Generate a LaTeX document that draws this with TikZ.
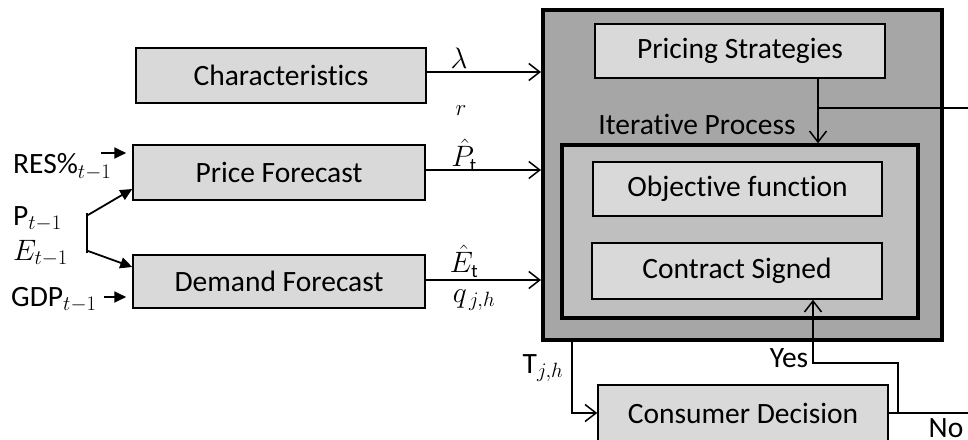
\RequirePackage{fix-cm}
\documentclass[tikz,border=0pt]{standalone}
\usepackage{fontspec}
\setmainfont{Carlito}[Ligatures=NoCommon]
\usetikzlibrary{arrows.meta}
\definecolor{boxgray}{HTML}{D9D9D9}
\definecolor{outergray}{HTML}{A6A6A6}
\definecolor{innergray}{HTML}{BFBFBF}
\newcommand{\smalltxt}[1]{\hbox{\fontsize{19}{19}\selectfont #1}}
\begin{document}
\begin{tikzpicture}[x=1pt,y=-1pt,
  font=\fontsize{29.5}{32}\selectfont,
  smallbox/.style={draw, line width=1.5pt, fill=boxgray, inner sep=0pt},
  openarrow/.style={line width=1.5pt, -{Straight Barb[length=11pt,width=17pt,line width=1.5pt]}},
  filledarrow/.style={line width=1.8pt, -{Triangle[length=12pt,width=11pt]}},
  lbl/.style={inner sep=0pt}]
\useasboundingbox (0,0) rectangle (968,439);
\clip (0,0) rectangle (968,439);
% outer and inner containers
\node[draw, line width=4pt, fill=outergray, minimum width=399pt, minimum height=330pt, inner sep=0pt] (outer) at (742.5,175) {};
\node[draw, line width=3.5pt, fill=innergray, minimum width=356pt, minimum height=173pt, inner sep=0pt] (inner) at (740,231.5) {};
% boxes
\node[smallbox, minimum width=290pt, minimum height=55pt] (char) at (281,75.5) {Characteristics};
\node[smallbox, minimum width=292pt, minimum height=55pt] (price) at (279,172.5) {Price Forecast};
\node[smallbox, minimum width=292pt, minimum height=53pt] (demand) at (279,281.5) {Demand Forecast};
\node[smallbox, minimum width=290pt, minimum height=54pt] (pricing) at (740,51) {Pricing Strategies};
\node[smallbox, minimum width=289pt, minimum height=54pt] (objective) at (737.5,189) {Objective function};
\node[smallbox, minimum width=290pt, minimum height=56pt] (contract) at (737,271) {Contract Signed};
\node[smallbox, minimum width=290pt, minimum height=56pt] (consumer) at (743,413) {Consumer Decision};
\node[lbl] (iter) at (697,124) {Iterative Process};
% arrows into outer box
\draw[openarrow] (char.east |- 0,72) -- (outer.west |- 0,72);
\draw[openarrow] (price.east |- 0,170) -- (outer.west |- 0,170);
\draw[openarrow] (demand.east |- 0,280) -- (outer.west |- 0,280);
\node[lbl] (lam) at (459,58) {$\lambda$};
\node[lbl] (r) at (461,111) {\fontsize{23}{23}\selectfont $r$};
\node[lbl] (ph) at (464,155) {$\hat{P}_{\smalltxt{t}}$};
\node[lbl] (eh) at (464,261) {$\hat{E}_{\smalltxt{t}}$};
\node[lbl] (q) at (474,300) {$q_{\,j,h}$};
% pricing strategies to inner
\coordinate (pj) at (818,108);
\coordinate (pe) at (968,108);
\draw[openarrow] (pricing.south -| pj) -- (inner.north -| pj);
\draw[line width=1.5pt] (pj) -- (pe);
% T to consumer
\coordinate (tj) at (572,0);
\draw[openarrow] (outer.south -| tj) |- (consumer.west);
\node[lbl] (T) at (543,368) {T$_{j,h}$};
% yes / no
\coordinate (yb) at (898,363);
\coordinate (yt) at (813,363);
\coordinate (noend) at (968,413);
\draw[line width=1.5pt] (consumer.east) -- (noend);
\draw[openarrow] (consumer.east -| yb) -- (yb) -- (yt) -- (contract.south -| yt);
\node[lbl] (yes) at (789,358) {Yes};
\node[lbl] (no) at (946,428) {No};
% left inputs
\node[lbl, anchor=west] (res) at (13,167) {RES\%$_{t-1}$};
\node[lbl, anchor=west] (pt) at (13,219) {P$_{t-1}$};
\node[lbl, anchor=west] (et) at (13,253) {$E_{t-1}$};
\node[lbl, anchor=west] (gdp) at (11,300) {GDP$_{t-1}$};
\coordinate (ra) at (101,153);
\coordinate (ga) at (104,297);
\draw[filledarrow, shorten >=6pt] (ra) -- (price.west |- ra);
\draw[filledarrow, shorten >=6pt] (ga) -- (demand.west |- ga);
\coordinate (bt) at (87,213);
\coordinate (bb) at (87,253);
\draw[line width=2pt] (bt) -- (bb);
\draw[filledarrow] (88,215) -- (price.west |- 0,189);
\draw[filledarrow] (88,251) -- (demand.west |- 0,267);
\end{tikzpicture}
\end{document}
